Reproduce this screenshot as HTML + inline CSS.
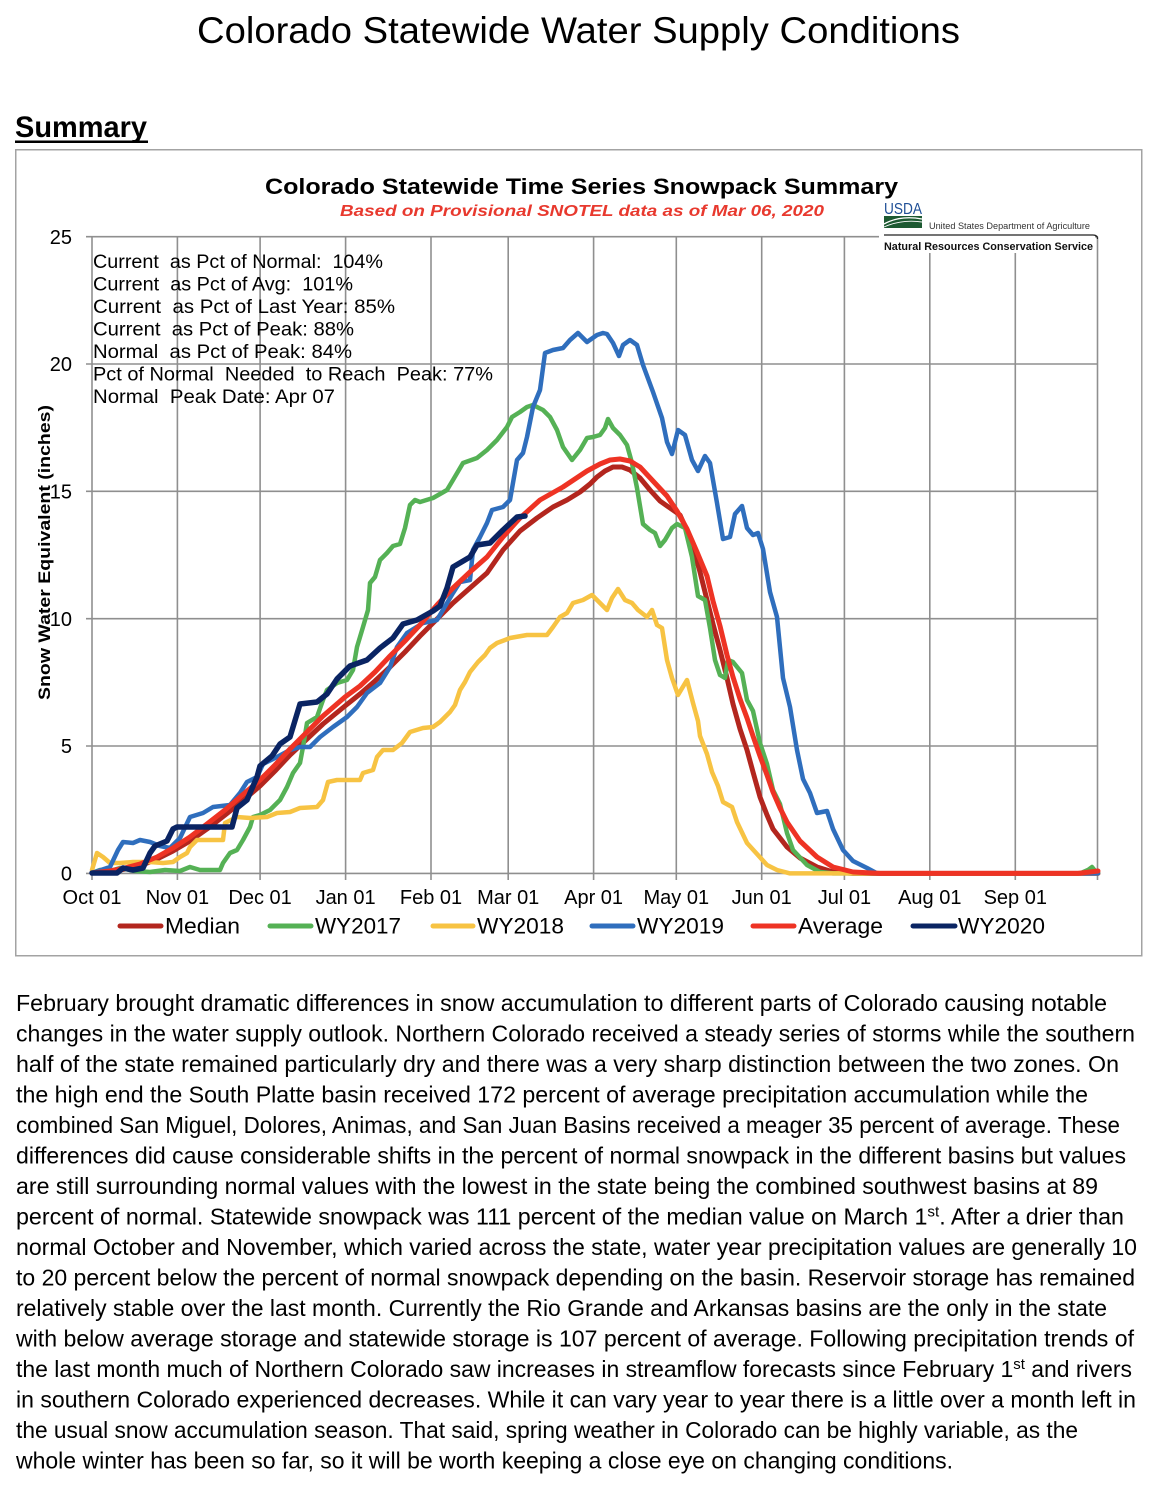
<!DOCTYPE html>
<html>
<head>
<meta charset="utf-8">
<style>
html,body{margin:0;padding:0;background:#fff;}
svg{display:block;}
text{font-family:"Liberation Sans",Arial,sans-serif;}
</style>
</head>
<body>
<svg width="1160" height="1490" viewBox="0 0 1160 1490" xmlns="http://www.w3.org/2000/svg">
<rect x="0" y="0" width="1160" height="1490" fill="#fff"/>

<!-- Page title -->
<text x="197" y="43" font-size="37" textLength="763" lengthAdjust="spacingAndGlyphs" fill="#000">Colorado Statewide Water Supply Conditions</text>

<!-- Summary heading -->
<text x="15" y="137" font-size="30" font-weight="bold" textLength="132" lengthAdjust="spacingAndGlyphs" fill="#000">Summary</text>
<rect x="15" y="140.5" width="133" height="2.5" fill="#000"/>

<!-- Chart frame -->
<rect x="15.75" y="149.75" width="1126" height="806" fill="#fff" stroke="#a3a3a3" stroke-width="1.5"/>

<!-- Grid -->
<g stroke="#8f8f8f" stroke-width="1.6" fill="none">
  <line x1="86" y1="873.4" x2="1098" y2="873.4"/>
  <line x1="86" y1="746" x2="1098" y2="746"/>
  <line x1="86" y1="618.7" x2="1098" y2="618.7"/>
  <line x1="86" y1="491.3" x2="1098" y2="491.3"/>
  <line x1="86" y1="364" x2="1098" y2="364"/>
  <line x1="86" y1="236.7" x2="1098" y2="236.7"/>
  <line x1="92" y1="236.7" x2="92" y2="880"/>
  <line x1="177.4" y1="236.7" x2="177.4" y2="880"/>
  <line x1="260.1" y1="236.7" x2="260.1" y2="880"/>
  <line x1="345.6" y1="236.7" x2="345.6" y2="880"/>
  <line x1="431" y1="236.7" x2="431" y2="880"/>
  <line x1="508.2" y1="236.7" x2="508.2" y2="880"/>
  <line x1="593.6" y1="236.7" x2="593.6" y2="880"/>
  <line x1="676.3" y1="236.7" x2="676.3" y2="880"/>
  <line x1="761.7" y1="236.7" x2="761.7" y2="880"/>
  <line x1="844.4" y1="236.7" x2="844.4" y2="880"/>
  <line x1="929.8" y1="236.7" x2="929.8" y2="880"/>
  <line x1="1015.3" y1="236.7" x2="1015.3" y2="880"/>
  <line x1="1097.5" y1="236.7" x2="1097.5" y2="880"/>
</g>

<!-- USDA logo -->
<rect x="879" y="200" width="216" height="53" fill="#fff"/>
<text x="884" y="214" font-size="16" textLength="38" lengthAdjust="spacingAndGlyphs" fill="#1f4f96">USDA</text>
<rect x="884" y="216" width="38" height="12" fill="#1d5a32"/>
<path d="M884 224 Q900 215 922 219" stroke="#fff" stroke-width="1.3" fill="none"/>
<path d="M884 227 Q902 219 922 222" stroke="#fff" stroke-width="0.9" fill="none"/>
<text x="929" y="229" font-size="9" textLength="161" lengthAdjust="spacingAndGlyphs" fill="#333">United States Department of Agriculture</text>
<path d="M884 235 L1093 235 Q1097.5 235 1097.5 239" stroke="#222" stroke-width="1.2" fill="none"/>
<text x="884" y="250" font-size="11" font-weight="bold" textLength="209" lengthAdjust="spacingAndGlyphs" fill="#111">Natural Resources Conservation Service</text>

<!-- Chart titles -->
<text x="265" y="194" font-size="22" font-weight="bold" textLength="633" lengthAdjust="spacingAndGlyphs" fill="#000">Colorado Statewide Time Series Snowpack Summary</text>
<text x="340" y="216" font-size="16" font-weight="bold" font-style="italic" textLength="484" lengthAdjust="spacingAndGlyphs" fill="#e8392e">Based on Provisional SNOTEL data as of Mar 06, 2020</text>

<!-- Y labels -->
<g font-size="20" fill="#000" text-anchor="end">
  <text x="72" y="880.5">0</text>
  <text x="72" y="753">5</text>
  <text x="72" y="626">10</text>
  <text x="72" y="498.5">15</text>
  <text x="72" y="371">20</text>
  <text x="72" y="244">25</text>
</g>
<text transform="translate(50,700) rotate(-90)" x="0" y="0" font-size="17" font-weight="bold" textLength="295" lengthAdjust="spacingAndGlyphs" fill="#000">Snow Water Equivalent (inches)</text>

<!-- X labels -->
<g font-size="20" fill="#000" text-anchor="middle">
  <text x="92" y="904">Oct 01</text>
  <text x="177.4" y="904">Nov 01</text>
  <text x="260.1" y="904">Dec 01</text>
  <text x="345.6" y="904">Jan 01</text>
  <text x="431" y="904">Feb 01</text>
  <text x="508.2" y="904">Mar 01</text>
  <text x="593.6" y="904">Apr 01</text>
  <text x="676.3" y="904">May 01</text>
  <text x="761.7" y="904">Jun 01</text>
  <text x="844.4" y="904">Jul 01</text>
  <text x="929.8" y="904">Aug 01</text>
  <text x="1015.3" y="904">Sep 01</text>
</g>

<!-- Series -->
<g fill="none" stroke-linejoin="round" stroke-linecap="round">
<!-- Median -->
<polyline stroke="#b3261e" stroke-width="5" points="92,873 110,872 125,869 140,866 157,859 173,851 190,841 207,829 225,815 240,803 260,786 275,771 290,755 307,739 323,724 345,706 360,694 375,681 390,667 405,652 420,636 437,619 453,603 470,588 487,573 503,550 520,531 537,518 553,507 567,500 580,492 590,484 597,477 605,471 613,467 622,467 630,470 640,478 650,490 660,501 670,508 680,515 690,537 700,572 707,600 713,624 720,650 727,678 733,704 740,729 747,750 753,772 760,797 767,815 773,829 787,847 800,858 817,867 833,872 853,873.4 1098,873.4"/>
<!-- WY2017 -->
<polyline stroke="#55b155" stroke-width="4.5" points="92,873 100,870 110,871 120,868 135,871 150,872 165,870 180,871 190,867 200,870 220,870 223,863 230,853 237,850 243,840 250,827 253,817 260,815 270,810 280,800 287,787 293,773 300,763 303,747 307,723 317,717 323,700 327,690 337,683 347,680 353,670 357,647 363,627 368,610 370,583 375,577 380,560 387,553 393,546 400,544 405,528 410,505 415,500 420,502 433,498 447,490 453,480 463,463 477,458 487,450 497,440 507,427 512,417 520,412 527,407 533,405 543,410 550,417 557,430 563,447 572,460 580,450 587,438 593,437 600,435 605,428 608,419 613,428 620,435 627,445 632,463 637,488 643,524 650,530 655,533 660,546 665,540 672,528 677,524 685,528 692,557 698,596 705,600 710,628 715,660 720,675 725,678 728,660 733,662 742,673 747,700 753,711 760,743 767,764 773,790 780,804 787,833 793,850 807,865 820,872 833,873.4 1080,873.4 1088,870 1092,867 1096,872 1098,873"/>
<!-- WY2018 -->
<polyline stroke="#f7c343" stroke-width="4.5" points="92,870 97,853 103,857 110,863 120,863 133,862 150,862 163,863 173,862 180,857 187,853 190,847 197,840 223,840 225,823 237,817 250,818 267,817 277,813 290,812 300,808 317,807 323,800 328,782 337,780 360,780 363,773 373,770 377,757 383,750 393,750 402,743 410,732 423,728 433,727 440,722 450,712 455,705 460,690 465,682 470,672 478,662 485,655 490,648 497,643 505,640 510,638 527,635 547,635 553,627 560,617 567,613 573,603 583,600 592,595 600,603 607,610 612,598 618,589 625,600 632,603 638,610 647,617 652,610 657,625 662,628 667,660 672,678 678,695 687,680 693,703 698,721 700,736 707,754 712,772 718,786 723,802 732,807 737,822 747,843 757,854 767,865 777,870 790,873.4 1098,873.4"/>
<!-- WY2019 -->
<polyline stroke="#2f6ebd" stroke-width="4.5" points="92,873 110,867 118,850 123,842 133,843 140,840 150,842 160,846 170,848 180,838 190,817 203,813 213,807 230,805 240,793 247,782 257,777 263,764 277,757 290,750 300,747 310,747 320,737 333,727 347,717 357,707 367,693 380,683 390,667 397,647 407,633 423,623 437,620 453,593 460,582 470,580 473,550 480,537 487,523 492,510 503,507 510,500 517,460 523,453 527,437 533,407 540,390 545,353 553,350 563,348 570,340 578,333 587,342 597,335 603,333 607,334 613,343 619,356 623,345 630,340 637,345 643,365 653,392 662,418 667,442 672,454 678,430 685,435 692,460 698,471 705,456 710,463 717,503 723,539 730,537 735,514 742,506 747,528 753,535 758,533 763,549 770,592 777,617 783,678 790,707 797,750 803,779 810,793 817,813 827,811 833,829 843,850 853,861 867,868 877,873.4 1098,873.4"/>
<!-- Average -->
<polyline stroke="#ee3324" stroke-width="5" points="92,873 110,871 125,868 140,864 157,857 173,848 190,837 207,824 225,810 240,797 260,780 275,765 290,749 307,732 323,716 345,697 360,686 375,672 390,656 405,641 420,625 437,605 453,588 470,572 487,557 503,537 520,518 540,500 563,487 587,471 600,464 610,460 620,459 630,461 640,467 653,481 667,496 677,511 687,529 697,552 707,576 713,601 720,626 727,655 733,677 740,699 747,718 753,736 760,756 767,775 773,792 780,808 787,822 800,841 817,857 833,867 853,872 880,873.4 1078,873.4 1090,872 1098,871"/>
<!-- WY2020 -->
<polyline stroke="#0a2463" stroke-width="5.5" points="92,873 117,873 123,868 133,870 143,868 150,853 155,846 167,841 173,829 177,827 232,827 237,808 247,800 257,777 260,766 272,756 280,744 290,737 300,704 317,702 327,694 337,679 350,666 367,660 380,648 393,638 403,624 417,620 433,611 440,606 447,588 453,567 470,557 477,545 490,543 503,530 517,517 525,516"/>
</g>

<!-- Stats text -->
<g font-size="19" fill="#000">
  <text x="93" y="268" textLength="290" lengthAdjust="spacingAndGlyphs">Current&#160; as Pct of Normal:&#160; 104%</text>
  <text x="93" y="290.5" textLength="260" lengthAdjust="spacingAndGlyphs">Current&#160; as Pct of Avg:&#160; 101%</text>
  <text x="93" y="313" textLength="302" lengthAdjust="spacingAndGlyphs">Current&#160; as Pct of Last Year: 85%</text>
  <text x="93" y="335.5" textLength="261" lengthAdjust="spacingAndGlyphs">Current&#160; as Pct of Peak: 88%</text>
  <text x="93" y="358" textLength="259" lengthAdjust="spacingAndGlyphs">Normal&#160; as Pct of Peak: 84%</text>
  <text x="93" y="380.5" textLength="400" lengthAdjust="spacingAndGlyphs">Pct of Normal&#160; Needed&#160; to Reach&#160; Peak: 77%</text>
  <text x="93" y="403" textLength="242" lengthAdjust="spacingAndGlyphs">Normal&#160; Peak Date: Apr 07</text>
</g>

<!-- Legend -->
<g stroke-width="5" stroke-linecap="round">
  <line x1="120" y1="926" x2="161" y2="926" stroke="#b3261e"/>
  <line x1="270" y1="926" x2="311" y2="926" stroke="#55b155"/>
  <line x1="433" y1="926" x2="473" y2="926" stroke="#f7c343"/>
  <line x1="592" y1="926" x2="633" y2="926" stroke="#2f6ebd"/>
  <line x1="753" y1="926" x2="794" y2="926" stroke="#ee3324"/>
  <line x1="913" y1="926" x2="955" y2="926" stroke="#0a2463"/>
</g>
<g font-size="22" fill="#000">
  <text x="165" y="933.5" textLength="75" lengthAdjust="spacingAndGlyphs">Median</text>
  <text x="315" y="933.5" textLength="86" lengthAdjust="spacingAndGlyphs">WY2017</text>
  <text x="477" y="933.5" textLength="87" lengthAdjust="spacingAndGlyphs">WY2018</text>
  <text x="637" y="933.5" textLength="87" lengthAdjust="spacingAndGlyphs">WY2019</text>
  <text x="798" y="933.5" textLength="85" lengthAdjust="spacingAndGlyphs">Average</text>
  <text x="958" y="933.5" textLength="87" lengthAdjust="spacingAndGlyphs">WY2020</text>
</g>

<!-- Paragraph -->
<g font-size="23" fill="#000">
  <text x="16" y="1011" textLength="1091" lengthAdjust="spacingAndGlyphs">February brought dramatic differences in snow accumulation to different parts of Colorado causing notable</text>
  <text x="16" y="1041.5" textLength="1119" lengthAdjust="spacingAndGlyphs">changes in the water supply outlook. Northern Colorado received a steady series of storms while the southern</text>
  <text x="16" y="1072" textLength="1103" lengthAdjust="spacingAndGlyphs">half of the state remained particularly dry and there was a very sharp distinction between the two zones. On</text>
  <text x="16" y="1102.5" textLength="1072" lengthAdjust="spacingAndGlyphs">the high end the South Platte basin received 172 percent of average precipitation accumulation while the</text>
  <text x="16" y="1133" textLength="1104" lengthAdjust="spacingAndGlyphs">combined San Miguel, Dolores, Animas, and San Juan Basins received a meager 35 percent of average. These</text>
  <text x="16" y="1163.5" textLength="1110" lengthAdjust="spacingAndGlyphs">differences did cause considerable shifts in the percent of normal snowpack in the different basins but values</text>
  <text x="16" y="1194" textLength="1082" lengthAdjust="spacingAndGlyphs">are still surrounding normal values with the lowest in the state being the combined southwest basins at 89</text>
  <text x="16" y="1224.5" textLength="1108" lengthAdjust="spacingAndGlyphs">percent of normal. Statewide snowpack was 111 percent of the median value on March 1<tspan font-size="15" dy="-8">st</tspan><tspan dy="8">. After a drier than</tspan></text>
  <text x="16" y="1255" textLength="1121" lengthAdjust="spacingAndGlyphs">normal October and November, which varied across the state, water year precipitation values are generally 10</text>
  <text x="16" y="1285.5" textLength="1119" lengthAdjust="spacingAndGlyphs">to 20 percent below the percent of normal snowpack depending on the basin. Reservoir storage has remained</text>
  <text x="16" y="1316" textLength="1091" lengthAdjust="spacingAndGlyphs">relatively stable over the last month. Currently the Rio Grande and Arkansas basins are the only in the state</text>
  <text x="16" y="1346.5" textLength="1118" lengthAdjust="spacingAndGlyphs">with below average storage and statewide storage is 107 percent of average. Following precipitation trends of</text>
  <text x="16" y="1377" textLength="1116" lengthAdjust="spacingAndGlyphs">the last month much of Northern Colorado saw increases in streamflow forecasts since February 1<tspan font-size="15" dy="-8">st</tspan><tspan dy="8"> and rivers</tspan></text>
  <text x="16" y="1407.5" textLength="1120" lengthAdjust="spacingAndGlyphs">in southern Colorado experienced decreases. While it can vary year to year there is a little over a month left in</text>
  <text x="16" y="1438" textLength="1062" lengthAdjust="spacingAndGlyphs">the usual snow accumulation season. That said, spring weather in Colorado can be highly variable, as the</text>
  <text x="16" y="1468.5" textLength="937" lengthAdjust="spacingAndGlyphs">whole winter has been so far, so it will be worth keeping a close eye on changing conditions.</text>
</g>
</svg>
</body>
</html>
